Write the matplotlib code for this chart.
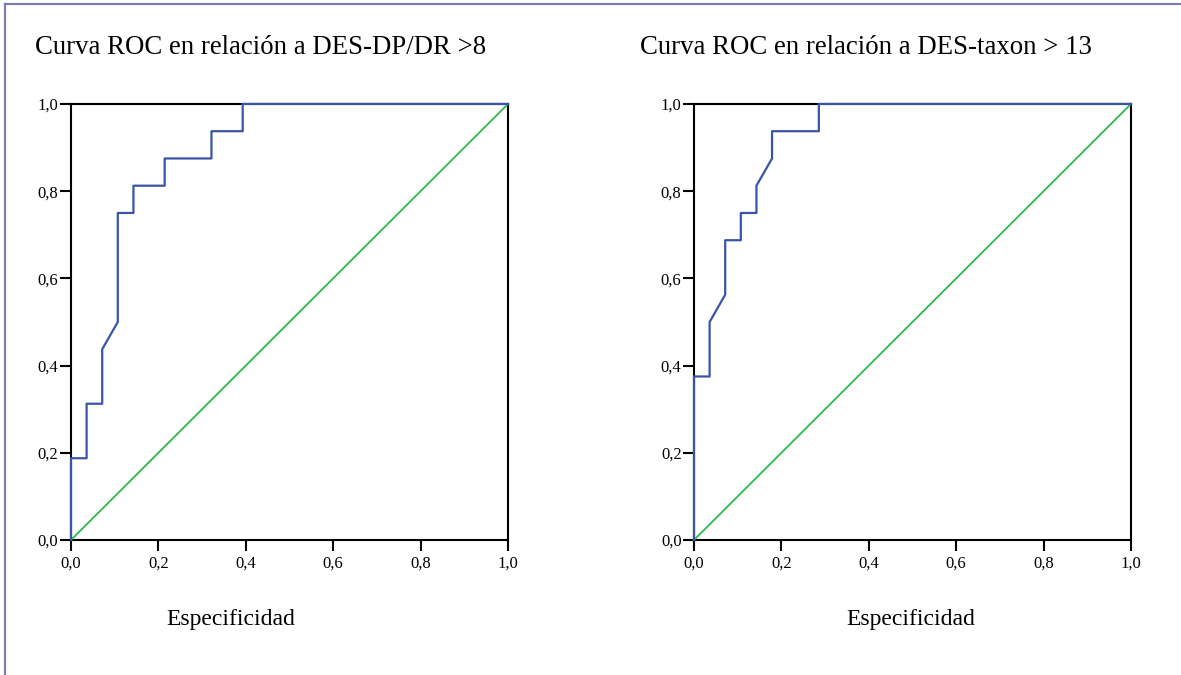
import matplotlib
matplotlib.use("Agg")
import matplotlib.pyplot as plt
from matplotlib.lines import Line2D

# ROC points (x = 1 - specificity, y = sensitivity)
titles = ["Curva ROC en relación a DES-DP/DR >8", "Curva ROC en relación a DES-taxon > 13"]
xlabel = "Especificidad"
tick_vals = [0.0, 0.2, 0.4, 0.6, 0.8, 1.0]
tick_labels = ["0,0", "0,2", "0,4", "0,6", "0,8", "1,0"]

fpr_dp = [0, 0, 0.0357, 0.0357, 0.0714, 0.0714, 0.1071, 0.1071, 0.1429, 0.1429,
          0.2143, 0.2143, 0.3214, 0.3214, 0.3929, 0.3929, 1.0]
tpr_dp = [0, 0.1875, 0.1875, 0.3125, 0.3125, 0.4375, 0.5, 0.75, 0.75, 0.8125,
          0.8125, 0.875, 0.875, 0.9375, 0.9375, 1.0, 1.0]

fpr_tax = [0, 0, 0.0357, 0.0357, 0.0714, 0.0714, 0.1071, 0.1071, 0.1429, 0.1429,
           0.1786, 0.1786, 0.2857, 0.2857, 1.0]
tpr_tax = [0, 0.375, 0.375, 0.5, 0.5625, 0.6875, 0.6875, 0.75, 0.75, 0.8125,
           0.875, 0.9375, 0.9375, 1.0, 1.0]

curves = [(fpr_dp, tpr_dp), (fpr_tax, tpr_tax)]

blue = "#3a55a8"
green = "#2db84a"
serif = ["Liberation Serif", "DejaVu Serif"]

fig = plt.figure(figsize=(11.81, 6.75), dpi=100)

lefts = [71 / 1181, 694 / 1181]
title_x = [35 / 1181, 640 / 1181]
xlabel_x = [231 / 1181, 911 / 1181]

for i in range(2):
    ax = fig.add_axes([lefts[i], 0.2, 437 / 1181, 0.646])
    fx, ty = curves[i]
    ax.plot([0, 1], [0, 1], color=green, lw=1.3, clip_on=False, zorder=3)
    ax.plot(fx, ty, color=blue, lw=1.6, clip_on=False, zorder=4)
    ax.set_xlim(0, 1)
    ax.set_ylim(0, 1)
    for s in ax.spines.values():
        s.set_linewidth(1.5)
        s.set_color("black")
    ax.set_xticks(tick_vals)
    ax.set_yticks(tick_vals)
    ax.set_xticklabels(tick_labels, family=serif, fontsize=12)
    ax.set_yticklabels(tick_labels, family=serif, fontsize=12)
    ax.tick_params(direction="out", length=8, width=1.5, pad=1)
    ax.tick_params(axis="x", pad=3)

    fig.text(title_x[i], 1 - 48 / 675, titles[i], family=serif, fontsize=19.3,
             ha="left", va="center")
    fig.text(xlabel_x[i], 1 - 620 / 675, xlabel, family=serif, fontsize=17,
             ha="center", va="center")

# frame lines on left and top
frame = "#7b7fb0"
fig.add_artist(Line2D([5 / 1181, 5 / 1181], [0, 1 - 4 / 675], color=frame, lw=1.6,
                      transform=fig.transFigure))
fig.add_artist(Line2D([5 / 1181, 1], [1 - 4 / 675, 1 - 4 / 675], color=frame, lw=1.6,
                      transform=fig.transFigure))

fig.savefig("out.png", dpi=100)
